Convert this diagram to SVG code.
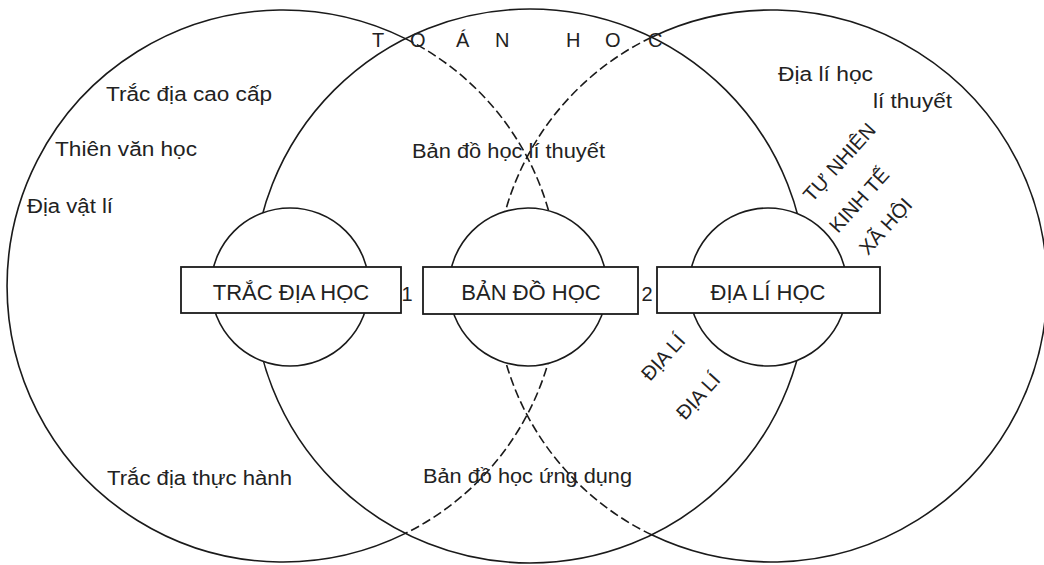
<svg xmlns="http://www.w3.org/2000/svg" width="1044" height="565" viewBox="0 0 1044 565">
<style>
.ln{fill:none;stroke:#1a1a1a;stroke-width:1.6}
.ds{fill:none;stroke:#1a1a1a;stroke-width:1.6;stroke-dasharray:9 4}
.sc{fill:none;stroke:#1a1a1a;stroke-width:1.6}
.bx{fill:none;stroke:#1a1a1a;stroke-width:1.8}
text{font-family:"Liberation Sans",Arial,sans-serif;fill:#222}
.lb{font-size:20px}
.bt{font-size:22px;text-anchor:middle}
</style>
<defs>
<mask id="mBig" maskUnits="userSpaceOnUse" x="0" y="0" width="1044" height="565">
<rect width="1044" height="565" fill="#fff"/>
<circle cx="290" cy="287" r="79" fill="#000"/>
<circle cx="528" cy="287" r="79" fill="#000"/>
<circle cx="768" cy="287" r="79" fill="#000"/>
<rect x="181" y="267" width="220" height="46" fill="#000"/>
<rect x="423" y="267" width="215" height="47" fill="#000"/>
<rect x="657" y="267" width="223" height="46" fill="#000"/>
</mask>
<mask id="mSmall" maskUnits="userSpaceOnUse" x="0" y="0" width="1044" height="565">
<rect width="1044" height="565" fill="#fff"/>
<rect x="181" y="267" width="220" height="46" fill="#000"/>
<rect x="423" y="267" width="215" height="47" fill="#000"/>
<rect x="657" y="267" width="223" height="46" fill="#000"/>
</mask>
</defs>
<rect width="1044" height="565" fill="#fff"/>

<g id="connectors" mask="url(#mBig)">
<path class="ln" d="M405.4 38.6 A276 276 0 1 0 405.4 533.4"/>
<path class="ds" d="M405.4 38.6 A276 276 0 0 1 405.4 533.4"/>
<circle class="ln" cx="530" cy="286" r="277"/>
<path class="ln" d="M651.6 37.2 A276 276 0 1 1 651.6 534.8"/>
<path class="ds" d="M651.6 37.2 A276 276 0 0 0 651.6 534.8"/>
</g>

<g id="node-trac-dia-hoc">
<circle class="sc" cx="290" cy="287" r="79" mask="url(#mSmall)"/>
<rect class="bx" x="181" y="267" width="220" height="46"/>
<text class="bt" x="291" y="300">TRẮC ĐỊA HỌC</text>
</g>
<g id="node-ban-do-hoc">
<circle class="sc" cx="528" cy="287" r="79" mask="url(#mSmall)"/>
<rect class="bx" x="423" y="267" width="215" height="47"/>
<text class="bt" x="531" y="300">BẢN ĐỒ HỌC</text>
</g>
<g id="node-dia-li-hoc">
<circle class="sc" cx="768" cy="287" r="79" mask="url(#mSmall)"/>
<rect class="bx" x="657" y="267" width="223" height="46"/>
<text class="bt" x="768" y="300">ĐỊA LÍ HỌC</text>
</g>

<g id="labels">
<text class="lb" x="407" y="301" text-anchor="middle">1</text>
<text class="lb" x="647" y="301" text-anchor="middle">2</text>
<text class="lb" x="372 392 410 432 456 476 495 530 566 586 605 628 648" y="47">T O Á N H O C</text>
<text class="lb" x="106" y="101" textLength="166" lengthAdjust="spacingAndGlyphs">Trắc địa cao cấp</text>
<text class="lb" x="55" y="156" textLength="142" lengthAdjust="spacingAndGlyphs">Thiên văn học</text>
<text class="lb" x="27" y="213" textLength="86" lengthAdjust="spacingAndGlyphs">Địa vật lí</text>
<text class="lb" x="412" y="158" textLength="193" lengthAdjust="spacingAndGlyphs">Bản đồ học lí thuyết</text>
<text class="lb" x="778" y="81" textLength="95" lengthAdjust="spacingAndGlyphs">Địa lí học</text>
<text class="lb" x="873" y="108" textLength="79" lengthAdjust="spacingAndGlyphs">lí thuyết</text>
<text class="lb" x="107" y="485" textLength="185" lengthAdjust="spacingAndGlyphs">Trắc địa thực hành</text>
<text class="lb" x="423" y="483" textLength="209" lengthAdjust="spacingAndGlyphs">Bản đồ học ứng dụng</text>
<text class="lb" transform="translate(812,203) rotate(-48)">TỰ NHIÊN</text>
<text class="lb" transform="translate(838,234) rotate(-48)">KINH TẾ</text>
<text class="lb" transform="translate(868,256) rotate(-48)">XÃ HỘI</text>
<text class="lb" transform="translate(650,382) rotate(-48)">ĐỊA LÍ</text>
<text class="lb" transform="translate(685,421) rotate(-48)">ĐỊA LÍ</text>
</g>
</svg>
